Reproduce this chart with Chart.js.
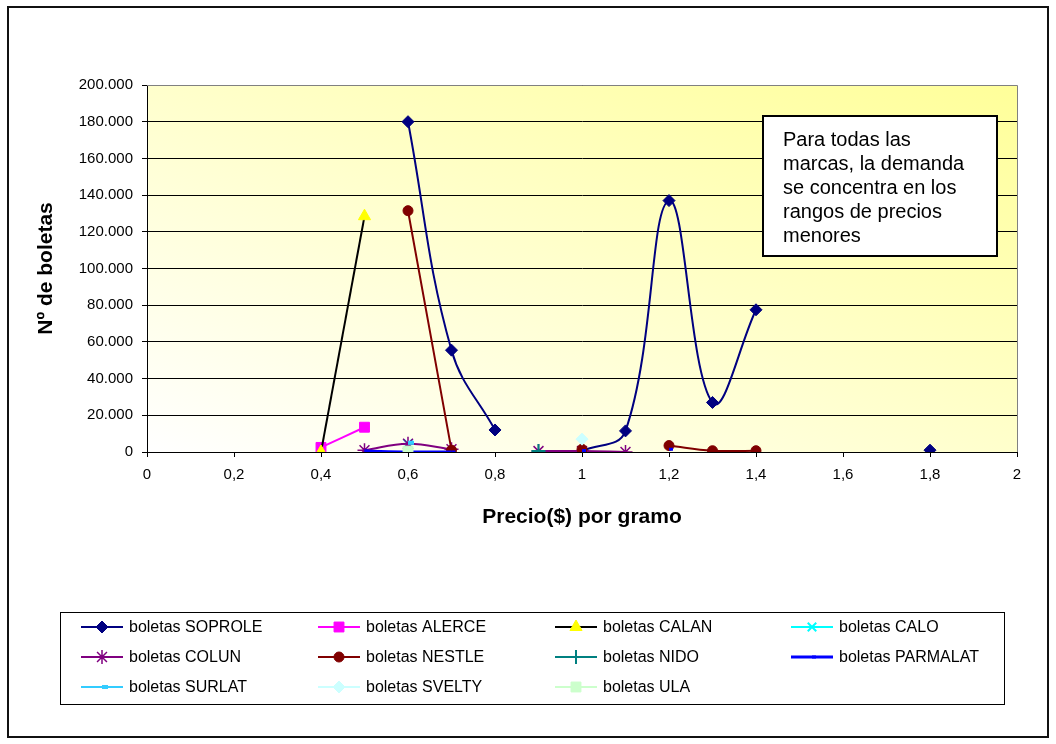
<!DOCTYPE html>
<html><head><meta charset="utf-8">
<script src="https://cdn.jsdelivr.net/npm/chart.js@4.4.0/dist/chart.umd.min.js"></script>
<style>html,body{margin:0;padding:0;background:#fff;}canvas{display:block;}</style>
</head><body>
<canvas id="c" width="1056" height="744"></canvas>
<script>
// Prices ($ per gram) — x values shared by all series
const precios  = [0.4, 0.5, 0.6, 0.7, 0.8, 0.9, 1.0, 1.1, 1.2, 1.3, 1.4, 1.5, 1.6, 1.7, 1.8];
// Nº de boletas per brand (null = no data / gap)
const soprole  = [null, null, 180000, 55500, 12000, null, 600, 11500, 137000, 27000, 77500, null, null, null, 1000];
const alerce   = [2500, 13500, null, null, null, null, null, null, null, null, null, null, null, null, null];
const calan    = [0, 128500, null, null, null, null, null, null, null, null, null, null, null, null, null];
const calo     = [null, null, 4500, null, null, null, null, null, null, null, null, null, null, null, null];
const colun    = [null, 1000, 4500, 1500, null, 500, 500, 0, null, null, null, null, null, null, null];
const nestle   = [null, null, 131500, 1000, null, null, 1500, null, 3500, 700, 700, null, null, null, null];
const nido     = [null, null, null, null, null, 500, null, null, null, null, null, null, null, null, null];
const parmalat = [null, 500, 0, 0, null, null, 800, null, 1500, null, null, null, null, null, null];
const surlat   = [null, null, 5000, null, null, null, null, null, null, null, null, null, null, null, null];
const svelty   = [null, null, null, null, null, null, 7000, null, null, null, null, null, null, null, null];
const ula      = [null, null, 500, null, null, null, null, null, null, null, null, null, null, null, null];

const marcas = ['SOPROLE','ALERCE','CALAN','CALO','COLUN','NESTLE','NIDO','PARMALAT','SURLAT','SVELTY','ULA'];
const series = [soprole, alerce, calan, calo, colun, nestle, nido, parmalat, surlat, svelty, ula];

const xTicksMin = 0, xTicksMax = 2, xStep = 0.2;
const yTicksMin = 0, yTicksMax = 200000, yStep = 20000;

const titleX = 'Precio($) por gramo';
const titleY = 'Nº de boletas';
const nota = ['Para todas las', 'marcas, la demanda', 'se concentra en los', 'rangos de precios', 'menores'];

const FONT = '"Liberation Sans", Arial, sans-serif';

const styles = [
  {line:'#000080', fill:'#000080', point:'rectRot', r:6, bw:1, lw:2},
  {line:'#FF00FF', fill:'#FF00FF', point:'rect', r:7, bw:1, lw:2},
  {line:'#000000', fill:'#FFFF00', stroke:'#FFFF00', point:'triangle', r:7, bw:1, lw:2},
  {line:'#00FFFF', fill:'#00FFFF', point:'crossRot', r:6, bw:2, lw:2},
  {line:'#800080', fill:'#800080', point:'star', r:7, bw:1.5, lw:2},
  {line:'#800000', fill:'#800000', point:'circle', r:5, bw:1, lw:2},
  {line:'#008080', fill:'#008080', point:'cross', r:7, bw:2, lw:2},
  {line:'#0000FF', fill:'#0000FF', point:'dash', r:4, bw:3, lw:3},
  {line:'#33CCFF', fill:'#33CCFF', point:'dash', r:6, bw:4, lw:2},
  {line:'#CCFFFF', fill:'#CCFFFF', point:'rectRot', r:6, bw:1, lw:2},
  {line:'#CCFFCC', fill:'#CCFFCC', point:'rect', r:7, bw:1, lw:2}
];

const datasets = series.map((vals, i) => {
  const s = styles[i];
  return {
    label: 'boletas ' + marcas[i],
    data: precios.map((p, k) => ({x: p, y: vals[k]})),
    showLine: true,
    spanGaps: false,
    tension: 0.4,
    borderColor: s.line,
    borderWidth: s.lw,
    pointStyle: s.point,
    pointRadius: s.r,
    pointHoverRadius: s.r,
    pointBorderWidth: s.bw,
    pointBackgroundColor: s.fill,
    pointBorderColor: s.stroke || s.fill,
    order: series.length - i
  };
});

const bgPlugin = {
  id: 'bg',
  beforeDraw(chart) {
    const {ctx, chartArea: a} = chart;
    ctx.save();
    ctx.fillStyle = '#fff';
    ctx.fillRect(0, 0, chart.width, chart.height);
    const w = a.right - a.left, h = a.bottom - a.top, n2 = w * w + h * h;
    const g = ctx.createLinearGradient(a.left, a.bottom, a.left + 2 * w * h * h / n2, a.bottom - 2 * w * w * h / n2);
    g.addColorStop(0, '#FFFFFF');
    g.addColorStop(1, '#FFFF99');
    ctx.fillStyle = g;
    ctx.fillRect(a.left, a.top, w, h);
    ctx.restore();
  },
  afterDraw(chart) {
    const {ctx, chartArea: a} = chart;
    ctx.save();
    // plot area right/top frame
    ctx.strokeStyle = '#808080';
    ctx.lineWidth = 1;
    ctx.beginPath();
    ctx.moveTo(a.left, a.top + 0.5); ctx.lineTo(a.right + 0.5, a.top + 0.5); ctx.lineTo(a.right + 0.5, a.bottom);
    ctx.stroke();
    // annotation box
    ctx.fillStyle = '#fff';
    ctx.fillRect(763, 116, 234, 140);
    ctx.strokeStyle = '#000';
    ctx.lineWidth = 2;
    ctx.strokeRect(763, 116, 234, 140);
    ctx.fillStyle = '#000';
    ctx.font = '20px ' + FONT;
    ctx.textAlign = 'left';
    ctx.textBaseline = 'middle';
    nota.forEach((t, k) => ctx.fillText(t, 783, 140 + 24 * k));
    // legend
    ctx.strokeStyle = '#000';
    ctx.lineWidth = 1;
    ctx.strokeRect(60.5, 612.5, 944, 92);
    const cols = [81, 318, 555, 791];
    const rows = [627, 657, 687];
    chart.data.datasets.forEach((ds, i) => {
      const x0 = cols[i % 4], y0 = rows[Math.floor(i / 4)];
      ctx.strokeStyle = ds.borderColor;
      ctx.lineWidth = ds.borderWidth;
      ctx.beginPath(); ctx.moveTo(x0, y0); ctx.lineTo(x0 + 42, y0); ctx.stroke();
      ctx.fillStyle = ds.pointBackgroundColor;
      ctx.strokeStyle = ds.pointBorderColor;
      ctx.lineWidth = ds.pointBorderWidth;
      Chart.helpers.drawPoint(ctx, {pointStyle: ds.pointStyle, radius: ds.pointRadius, borderWidth: ds.pointBorderWidth, rotation: 0}, x0 + 21, y0);
      ctx.fillStyle = '#000';
      ctx.font = '16px ' + FONT;
      ctx.textAlign = 'left';
      ctx.textBaseline = 'middle';
      ctx.fillText(ds.label, x0 + 48, y0 + 1);
    });
    // outer border
    ctx.strokeStyle = '#111';
    ctx.lineWidth = 2;
    ctx.strokeRect(8, 7, 1040, 730);
    ctx.restore();
  }
};

new Chart(document.getElementById('c'), {
  type: 'scatter',
  data: {datasets},
  options: {
    responsive: false,
    animation: false,
    devicePixelRatio: 1,
    layout: {padding: {left: 29.4, top: 85, right: 39, bottom: 210.4}},
    plugins: {legend: {display: false}, tooltip: {enabled: false}},
    elements: {line: {capBezierPoints: true}},
    scales: {
      x: {
        type: 'linear', min: xTicksMin, max: xTicksMax,
        ticks: {stepSize: xStep, color: '#000', font: {family: FONT, size: 15}, padding: 9,
          callback: v => String(Math.round(v * 10) / 10).replace('.', ',')},
        grid: {drawOnChartArea: false, color: '#000', tickColor: '#000', tickLength: 5},
        border: {color: '#000', width: 1},
        title: {display: true, text: titleX, color: '#000', font: {family: FONT, size: 21, weight: 'bold'}, padding: {top: 4, bottom: 4}},
        afterFit: s => { s.height = 81.6; }
      },
      y: {
        min: yTicksMin, max: yTicksMax,
        ticks: {stepSize: yStep, color: '#000', font: {family: FONT, size: 15}, padding: 9,
          callback: v => String(v).replace(/\B(?=(\d{3})+(?!\d))/g, '.')},
        grid: {color: '#000', tickColor: '#000', tickLength: 5},
        border: {color: '#000', width: 1},
        title: {display: true, text: titleY, color: '#000', font: {family: FONT, size: 21, weight: 'bold'}, padding: {top: 4, bottom: 4}},
        afterFit: s => { s.width = 117.6; }
      }
    }
  },
  plugins: [bgPlugin]
});
</script>
</body></html>
